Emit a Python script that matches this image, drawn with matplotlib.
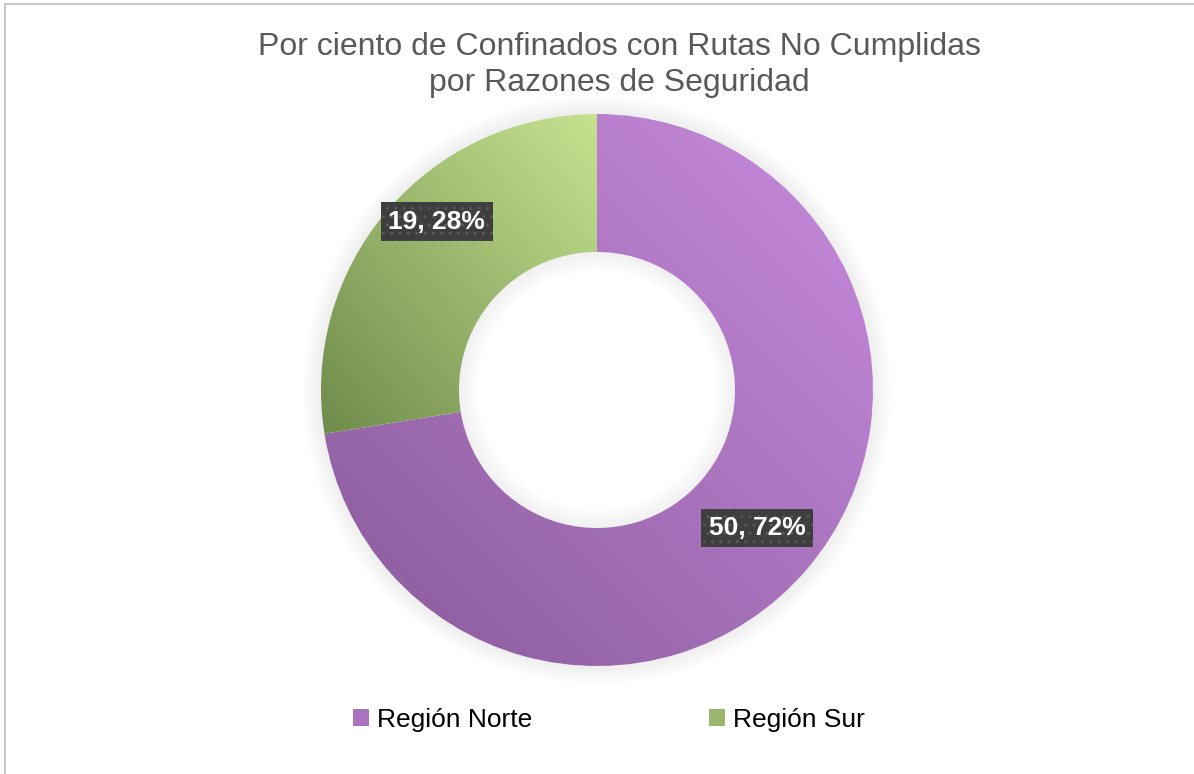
import numpy as np
import matplotlib.pyplot as plt
from matplotlib.patches import Wedge, Rectangle, Patch
from matplotlib.colors import to_rgb

# datos
regiones = ['Región Norte', 'Región Sur']
valores = [50, 19]
etiquetas = ['50, 72%', '19, 28%']
claros = ['#C98CDF', '#C6E290']
oscuros = ['#885A9A', '#6F8B4B']

titulo = 'Por ciento de Confinados con Rutas No Cumplidas\npor Razones de Seguridad'

# posicion de las etiquetas (coordenadas del eje, radio = 1)
pos_etiquetas = [(0.58, -0.50), (-0.58, 0.61)]

plt.rcParams['font.family'] = ['Liberation Sans', 'DejaVu Sans']

fig = plt.figure(figsize=(11.94, 7.74), dpi=100)
W, H = 1194, 774

# marco gris (solo se ven arriba e izquierda)
fig.patches.append(Rectangle((5 / W, -0.2), 1.5, 1.2 - 4 / H, transform=fig.transFigure,
                             fill=False, edgecolor='#C8C8C8', linewidth=1.5))

cx, cy, R = 597, 390, 276
ax = fig.add_axes([(cx - R) / W, (H - cy - R) / H, 2 * R / W, 2 * R / H])
ax.set_xlim(-1, 1)
ax.set_ylim(-1, 1)
ax.axis('off')

# sombra exterior
for k in range(13):
    ax.add_patch(Wedge((0, 0), 1.0 + (k + 1) * 0.005, 0, 360, width=0.005, clip_on=False,
                       facecolor='#7a7a7a', edgecolor='none', alpha=0.12 * (1 - k / 13), zorder=1))

wedges, _ = ax.pie(valores, radius=1, startangle=90, counterclock=False,
                   wedgeprops=dict(width=0.5, edgecolor='none', linewidth=0))

# relleno con degradado (arriba-derecha claro, abajo-izquierda oscuro)
for w, c1, c2 in zip(wedges, claros, oscuros):
    w.set_facecolor('none')
    w.set_zorder(2)
    verts = w.get_path().vertices
    x0, y0 = verts.min(axis=0)
    x1, y1 = verts.max(axis=0)
    xs = np.linspace(x0, x1, 200)
    ys = np.linspace(y0, y1, 200)
    X, Y = np.meshgrid(xs, ys)
    t = ((X - x0) / (x1 - x0) + (Y - y0) / (y1 - y0)) / 2
    a, b = np.array(to_rgb(c2)), np.array(to_rgb(c1))
    img = a[None, None, :] * (1 - t[..., None]) + b[None, None, :] * t[..., None]
    im = ax.imshow(img, extent=(x0, x1, y0, y1), origin='lower', zorder=2,
                   interpolation='bilinear', aspect='auto')
    im.set_clip_path(w)

ax.set_xlim(-1, 1)
ax.set_ylim(-1, 1)

# sombra interior del hueco
for k in range(14):
    ax.add_patch(Wedge((0, 0), 0.5 - k * 0.005, 0, 360, width=0.005,
                       facecolor='#8a8a8a', edgecolor='none', alpha=0.12 * (1 - k / 14), zorder=3))

# etiquetas de datos
for (x, y), et in zip(pos_etiquetas, etiquetas):
    ax.text(x, y, et, ha='center', va='center',
            fontsize=19, fontweight='bold', color='white', zorder=6,
            bbox=dict(boxstyle='square,pad=0.28', facecolor='#3E3E3E',
                      edgecolor='#585858', linewidth=0, hatch='..'))

fig.text(619 / W, 1 - 65 / H, titulo, ha='center', va='center', fontsize=23,
         color='#595959', linespacing=1.25)

handles = [Patch(facecolor=(np.array(to_rgb(a)) + np.array(to_rgb(b))) / 2)
           for a, b in zip(claros, oscuros)]
fig.legend(handles, regiones, loc='center', bbox_to_anchor=(609 / W, 1 - 720 / H),
           ncol=2, frameon=False, fontsize=19, handlelength=0.6, handleheight=0.6,
           handletextpad=0.3, columnspacing=6.7)

fig.savefig('out.png', dpi=100)
